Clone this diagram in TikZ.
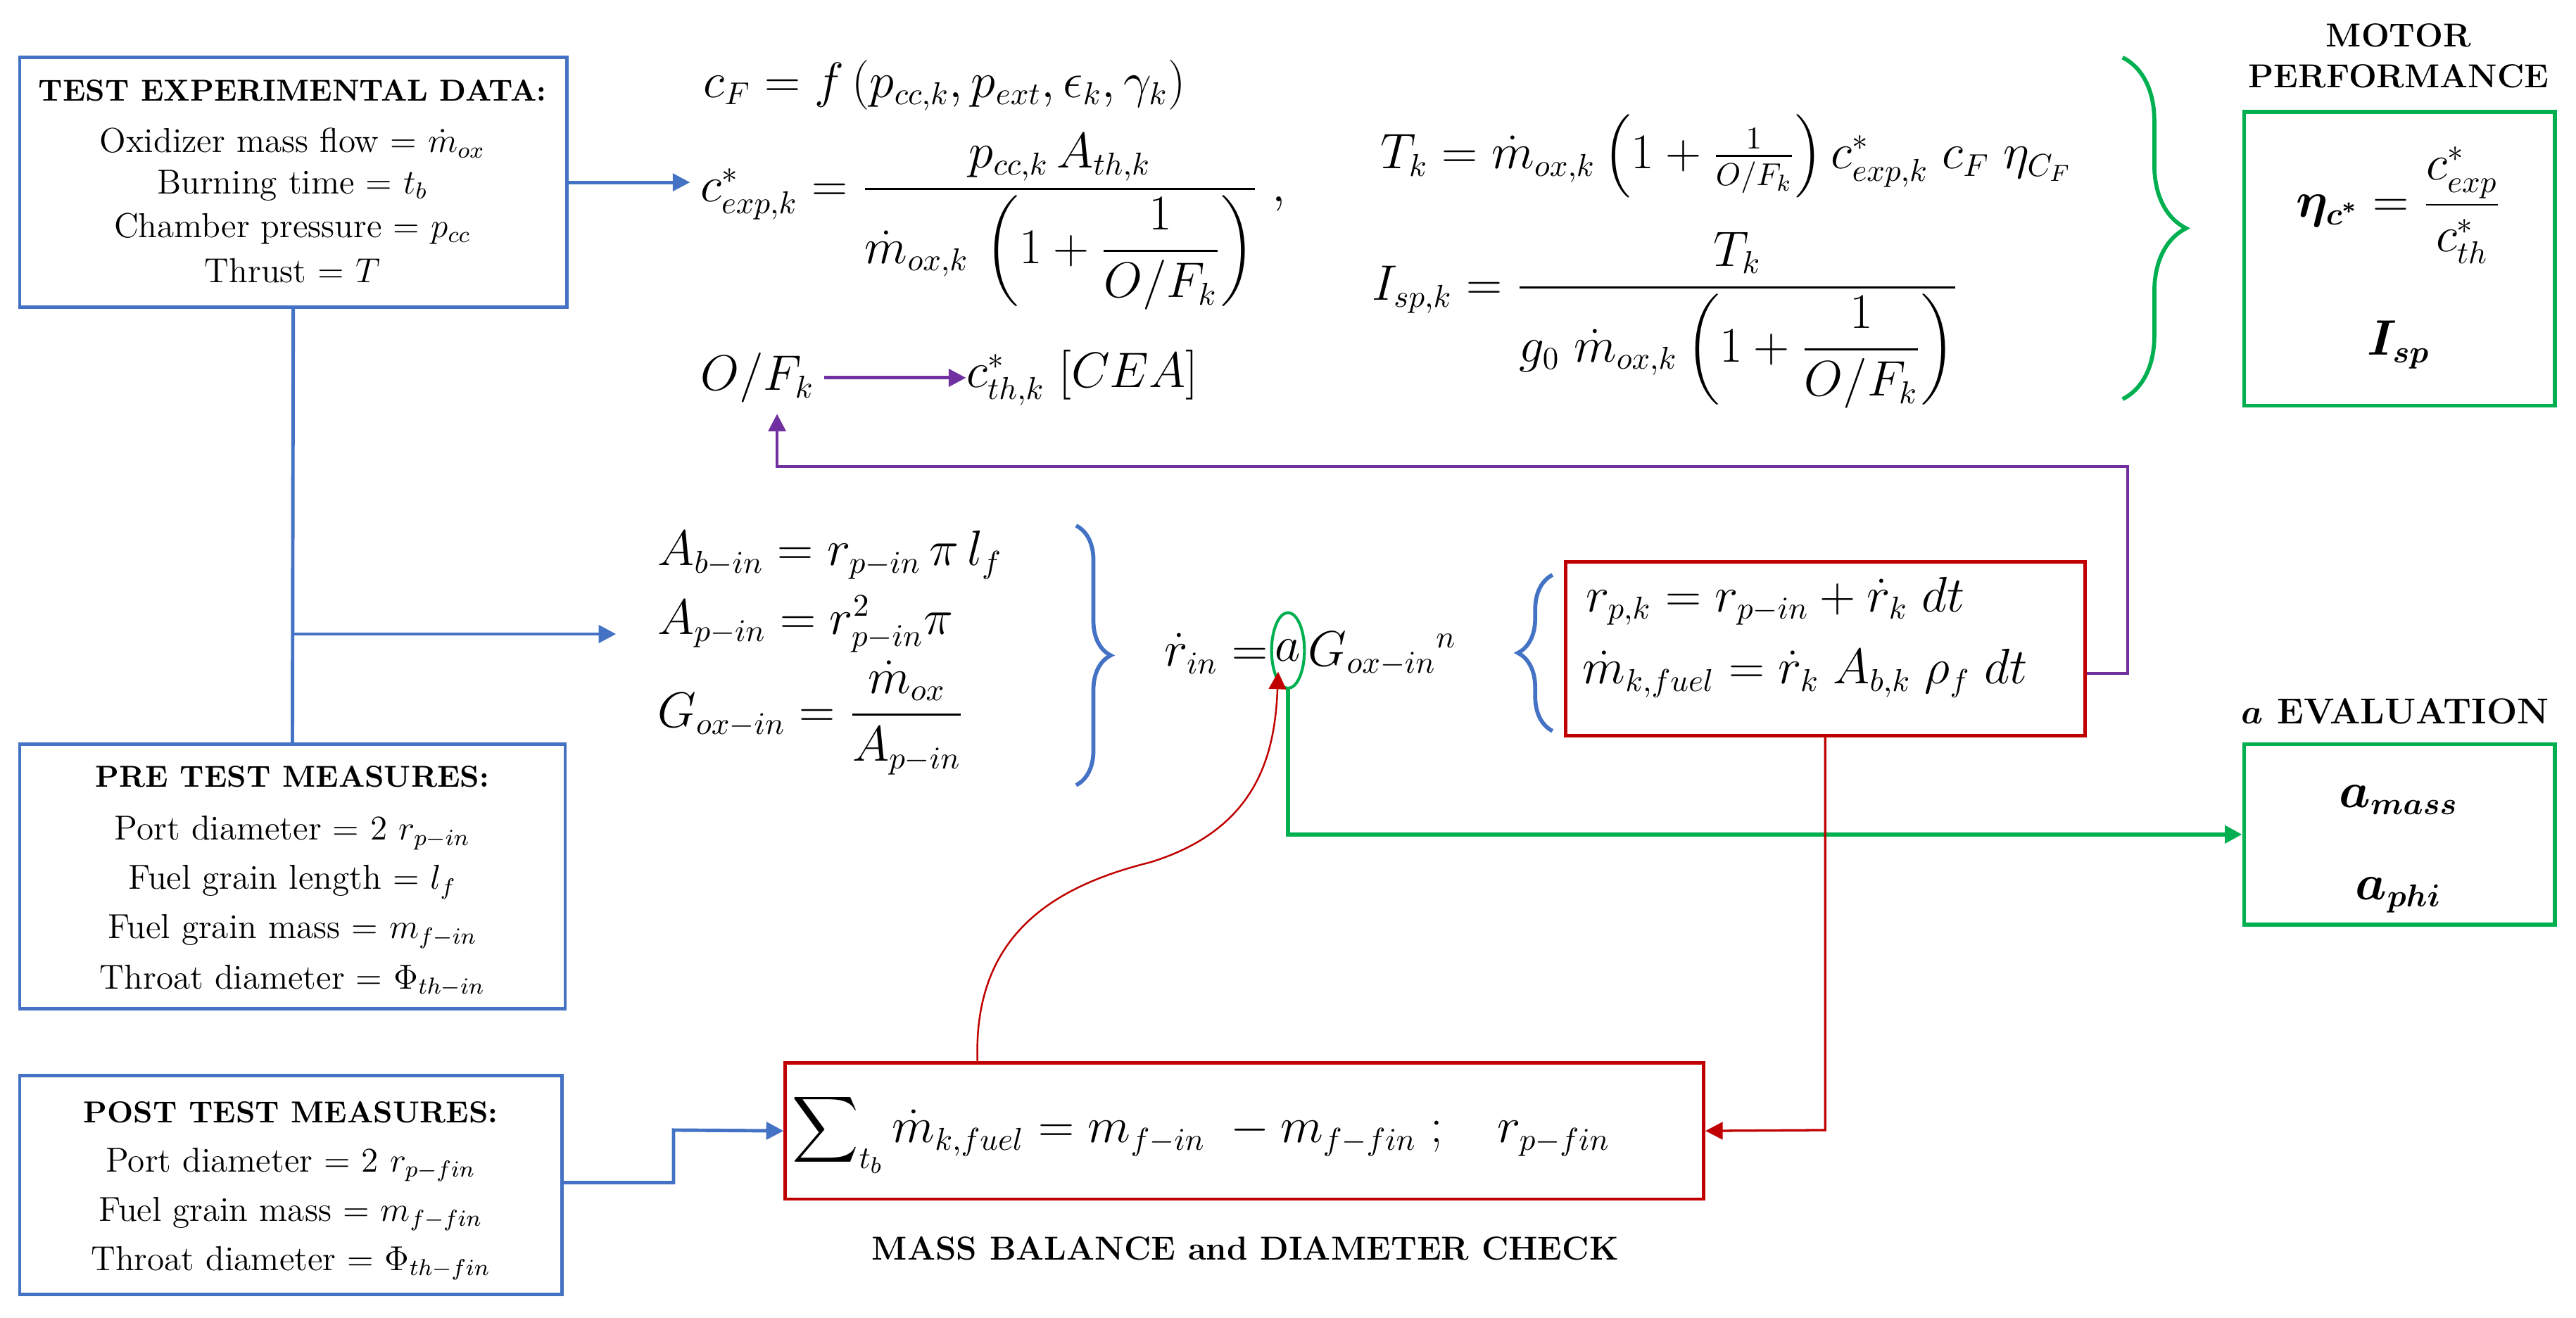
\documentclass[tikz,border=0pt]{standalone}
\usepackage{amsmath,amssymb,bm}
\usetikzlibrary{arrows.meta,decorations.pathreplacing}
\definecolor{bblue}{RGB}{68,114,196}
\definecolor{ggreen}{RGB}{0,176,80}
\definecolor{rred}{RGB}{192,0,0}
\definecolor{ppurple}{RGB}{112,48,160}
\begin{document}
\begin{tikzpicture}[x=0.02cm,y=-0.02cm,
  txt/.style={font=\fontsize{12}{14}\selectfont,inner sep=1pt},
  hd/.style={font=\fontsize{10.5}{13}\selectfont\bfseries,inner sep=1pt},
  eq/.style={font=\fontsize{16}{19}\selectfont,anchor=west,inner sep=0},
  bl/.style={draw=bblue,line width=1.2pt},
  gb/.style={draw=ggreen,line width=1.4pt},
  rb/.style={draw=rred,line width=1.2pt},
  arr/.style={-{Triangle[length=6pt,width=6pt]}}]
\useasboundingbox (0,0) rectangle (1568,802);
% left boxes
\node[bl,minimum width=333*0.02cm,minimum height=152*0.02cm] (ted) at (178.5,111) {};
\node[hd] at (178,55) {TEST EXPERIMENTAL DATA:};
\node[txt] at (178,87) {Oxidizer mass flow = $\dot m_{ox}$};
\node[txt] at (178,113) {Burning time = $t_b$};
\node[txt] at (178,139) {Chamber pressure = $p_{cc}$};
\node[txt] at (178,165) {Thrust = $T$};
\node[bl,minimum width=332*0.02cm,minimum height=161*0.02cm] (pre) at (178,533.5) {};
\node[hd] at (178,473) {PRE TEST MEASURES:};
\node[txt] at (178,507) {Port diameter = 2 $r_{p-in}$};
\node[txt] at (178,537) {Fuel grain length = $l_f$};
\node[txt] at (178,567) {Fuel grain mass = $m_{f-in}$};
\node[txt] at (178,597) {Throat diameter = $\Phi_{th-in}$};
\node[bl,minimum width=330*0.02cm,minimum height=133*0.02cm] (post) at (177,721.5) {};
\node[hd] at (177,677) {POST TEST MEASURES:};
\node[txt] at (177,709) {Port diameter = 2 $r_{p-fin}$};
\node[txt] at (177,739) {Fuel grain mass = $m_{f-fin}$};
\node[txt] at (177,769) {Throat diameter = $\Phi_{th-fin}$};
% blue connectors
\coordinate (e1) at (420,111);
\draw[bblue,line width=1.2pt,arr] (ted.east |- 0,111) -- (e1);
\coordinate (j) at (178,386);
\coordinate (e2) at (375,386);
\draw[bblue,line width=1.2pt] (ted.south) -- (pre.north);
\draw[bblue,line width=1.2pt,arr] (j) -- (e2);
% top equations
\node[eq] (cf) at (428,52) {$c_F = f\left(p_{cc,k}, p_{ext}, \epsilon_k, \gamma_k\right)$};
\node[eq] (cex) at (426,135) {$c^*_{exp,k} = \dfrac{p_{cc,k}\,A_{th,k}}{\dot m_{ox,k}\,\left(1+\dfrac{1}{O/F_k}\right)}\;,$};
\node[eq] (of) at (426,230) {$O/F_k$};
\node[eq] (cth) at (588,230) {$c^*_{th,k}\ [CEA]$};
\draw[ppurple,line width=1.2pt,arr] (of.east) ++(6,0) coordinate (ofe) -- (cth.west);
\node[eq] (tk) at (840,95) {$T_k = \dot m_{ox,k}\left(1+\frac{1}{O/F_k}\right)c^*_{exp,k}\;c_F\;\eta_{C_F}$};
\node[eq] (isp) at (835,195) {$I_{sp,k} = \dfrac{T_k}{g_0\;\dot m_{ox,k}\left(1+\dfrac{1}{O/F_k}\right)}$};
\draw[ggreen,line width=1.4pt,decorate,decoration={brace,amplitude=22pt}] (1292,35) -- (1292,243);
\node[font=\fontsize{11.5}{14}\selectfont\bfseries,align=center] at (1460,34) {MOTOR\\PERFORMANCE};
\node[gb,minimum width=189*0.02cm,minimum height=179*0.02cm] (mp) at (1460.5,157.5) {};
\node[font=\fontsize{16}{19}\selectfont] at (1460,125) {$\bm{\eta_{c^*}} = \dfrac{c^*_{exp}}{c^*_{th}}$};
\node[font=\fontsize{16}{19}\selectfont] at (1460,210) {$\bm{I_{sp}}$};
% middle equations
\node[eq] at (400,338) {$A_{b-in} = r_{p-in}\,\pi\,l_f$};
\node[eq] at (400,380) {$A_{p-in} = r^2_{p-in}\pi$};
\node[eq] at (400,437) {$G_{ox-in} = \dfrac{\dot m_{ox}}{A_{p-in}}$};
\draw[bblue,line width=1.4pt,decorate,decoration={brace,amplitude=12pt}] (655,320) -- (655,478);
\node[eq,anchor=east] (rin) at (772,398) {$\dot r_{in} = $};
\node[font=\fontsize{16}{19}\selectfont,inner sep=0] (a) at (784,396) {$a$};
\node[eq] (g) at (796,398) {$G_{ox-in}{}^{n}$};
\draw[ggreen,line width=1pt] (784,396) ellipse (10 and 23);
\coordinate (ab) at (784,419);
\coordinate (ab2) at (778,409);
\draw[bblue,line width=1.4pt,decorate,decoration={brace,amplitude=12pt,mirror}] (945,350) -- (945,445);
\node[rb,minimum width=316*0.02cm,minimum height=106*0.02cm] (rbx) at (1111,395) {};
\node[eq] at (965,366) {$r_{p,k} = r_{p-in} + \dot r_k\;dt$};
\node[eq] at (963,410) {$\dot m_{k,fuel} = \dot r_k\;A_{b,k}\;\rho_f\;dt$};
% purple feedback
\draw[ppurple,line width=1pt,arr] (rbx.east |- 0,410) -- (1295,410) -- (1295,284) -- (473,284) -- (473,252);
% a evaluation
\node[font=\fontsize{12.5}{15}\selectfont\bfseries] at (1458,433) {$\bm{a}$ EVALUATION};
\node[gb,minimum width=189*0.02cm,minimum height=110*0.02cm] (ae) at (1460.5,508) {};
\node[font=\fontsize{16}{19}\selectfont] at (1460,487) {$\bm{a_{mass}}$};
\node[font=\fontsize{16}{19}\selectfont] at (1460,545) {$\bm{a_{phi}}$};
\draw[ggreen,line width=1.4pt,arr] (ab) -- (784,508) -- (ae.west |- 0,508);
% mass balance
\node[rb,minimum width=559*0.02cm,minimum height=83*0.02cm] (mb) at (757.5,688.5) {};
\node[eq] at (482,690) {$\displaystyle\sum\nolimits_{t_b}\dot m_{k,fuel} = m_{f-in}\;-m_{f-fin}\;;\quad r_{p-fin}$};
\node[font=\fontsize{11.5}{14}\selectfont\bfseries] at (758,760) {MASS BALANCE and DIAMETER CHECK};
\draw[bblue,line width=1.2pt,arr] (post.east |- 0,720) -- (410,720) -- (410,688) -- (mb.west);
\draw[rred,line width=0.8pt,arr] (rbx.south) -- (1111,688) -- (mb.east);
\draw[rred,line width=0.6pt,arr] (595,647) .. controls (592,570) and (640,540) .. (700,525) .. controls (765,505) and (776,460) .. (ab2);
\end{tikzpicture}
\end{document}
